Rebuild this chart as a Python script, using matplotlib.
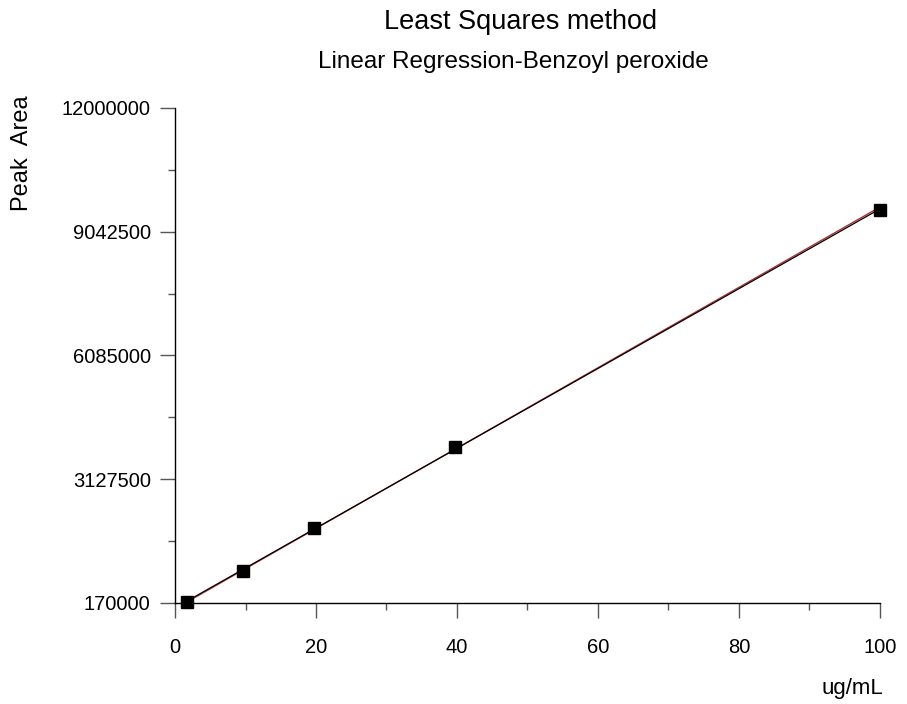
import numpy as np
import matplotlib.pyplot as plt
from matplotlib.ticker import FixedLocator

plt.rcParams['font.family'] = ['Liberation Sans', 'DejaVu Sans']

# calibration data
conc = [1.7, 9.7, 19.7, 39.7, 100]
area = [194000, 935000, 1962000, 3898000, 9562000]
y_ticks = [170000, 3127500, 6085000, 9042500, 12000000]
x_ticks = [0, 20, 40, 60, 80, 100]

fig = plt.figure(figsize=(9.07, 7.04), dpi=100)
ax = fig.add_axes([0.193, 0.1435, 0.777, 0.7031])

x = np.array(conc)
y = np.array(area)
xs = np.array([x.min(), x.max()])

# red: weighted fit, black: ordinary least squares
p_red = np.polyfit(x, y, 1, w=1 / np.sqrt(x))
p_blk = np.polyfit(x, y, 1)
ax.plot(xs, np.polyval(p_red, xs), color='#b03030', lw=1.0)
ax.plot(xs, np.polyval(p_blk, xs), color='black', lw=0.9)
ax.plot(x, y, 's', color='black', ms=8, clip_on=False, zorder=5)

ax.set_xlim(0, 100)
ax.set_ylim(170000, 12000000)
ax.xaxis.set_major_locator(FixedLocator(x_ticks))
ax.xaxis.set_minor_locator(FixedLocator([10, 30, 50, 70, 90]))
ax.yaxis.set_major_locator(FixedLocator(y_ticks))
ax.yaxis.set_minor_locator(FixedLocator([(a + b) / 2 for a, b in zip(y_ticks[:-1], y_ticks[1:])]))
ax.set_xticklabels([str(t) for t in x_ticks])
ax.set_yticklabels([str(t) for t in y_ticks])

for s in ['top', 'right']:
    ax.spines[s].set_visible(False)
for s in ['left', 'bottom']:
    ax.spines[s].set_linewidth(1.0)
ax.tick_params(which='major', length=10.5, width=1, color='#555555', labelsize=14.5)
ax.tick_params(which='minor', length=5, width=1, color='#555555')
ax.tick_params(axis='y', pad=7)
ax.tick_params(axis='x', pad=15)

fig.text(0.574, 0.969, 'Least Squares method', ha='center', va='center', fontsize=19.5)
fig.text(0.566, 0.912, 'Linear Regression-Benzoyl peroxide', ha='center', va='center', fontsize=17.5)
fig.text(0.024, 0.783, 'Peak  Area', rotation=90, ha='center', va='center', fontsize=17)
fig.text(0.94, 0.022, 'ug/mL', ha='center', va='center', fontsize=16)

fig.savefig('out.png', dpi=100)
